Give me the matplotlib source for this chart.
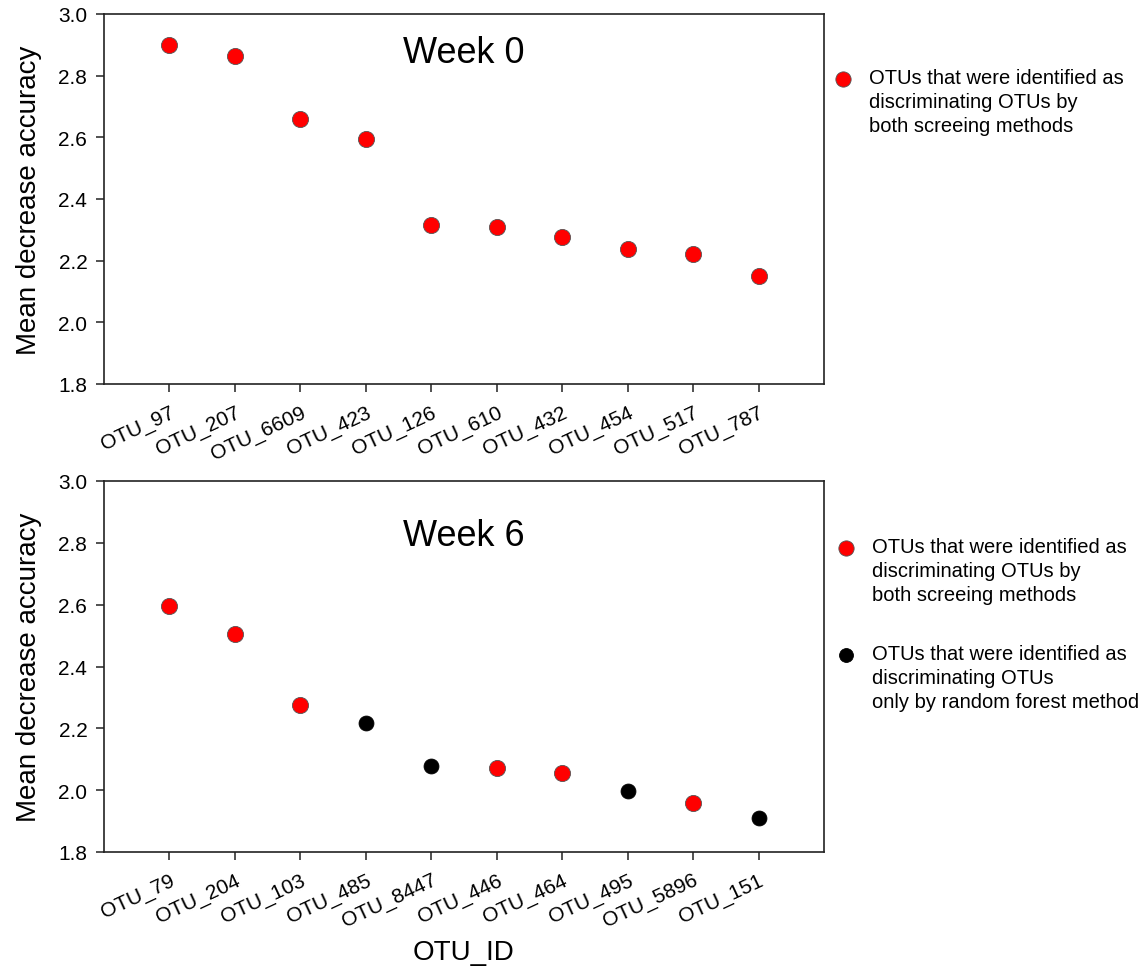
import matplotlib
matplotlib.use("Agg")
import matplotlib.pyplot as plt
from matplotlib.lines import Line2D

plt.rcParams['font.family'] = ['Liberation Sans', 'DejaVu Sans']

week0_ids = ["OTU_97", "OTU_207", "OTU_6609", "OTU_423", "OTU_126",
             "OTU_610", "OTU_432", "OTU_454", "OTU_517", "OTU_787"]
week0_vals = [2.90, 2.865, 2.66, 2.595, 2.316, 2.31, 2.277, 2.238, 2.222, 2.15]
week0_group = ["both"] * 10

week6_ids = ["OTU_79", "OTU_204", "OTU_103", "OTU_485", "OTU_8447",
             "OTU_446", "OTU_464", "OTU_495", "OTU_5896", "OTU_151"]
week6_vals = [2.596, 2.505, 2.275, 2.216, 2.078, 2.072, 2.055, 1.997, 1.959, 1.91]
week6_group = ["both", "both", "both", "rf", "rf", "both", "both", "rf", "both", "rf"]

y_ticks = [1.8, 2.0, 2.2, 2.4, 2.6, 2.8, 3.0]

colors = {"both": "#ff0000", "rf": "#000000"}
edges = {"both": "#555555", "rf": "#000000"}
labels = {"both": "OTUs that were identified as\ndiscriminating OTUs by\nboth screeing methods",
          "rf": "OTUs that were identified as\ndiscriminating OTUs\nonly by random forest method"}

W, H = 1146, 970
fig = plt.figure(figsize=(W / 100, H / 100), dpi=100)
ax1 = fig.add_axes([104 / W, 1 - 385 / H, 720 / W, 370 / H])
ax2 = fig.add_axes([104 / W, 1 - 853 / H, 720 / W, 371 / H])


def draw(ax, ids, vals, groups, title, title_y):
    x = list(range(len(ids)))
    for g in ["both", "rf"]:
        xs = [xi for xi, gg in zip(x, groups) if gg == g]
        ys = [v for v, gg in zip(vals, groups) if gg == g]
        if xs:
            ax.scatter(xs, ys, s=135 if g == "both" else 115, c=colors[g],
                       edgecolors=edges[g], linewidths=0.6, zorder=3)
    ax.set_xlim(-1, len(ids))
    ax.set_ylim(1.8, 3.0)
    ax.set_yticks(y_ticks)
    ax.set_yticklabels([f"{t:.1f}" for t in y_ticks], fontsize=15)
    ax.set_xticks(x)
    ax.set_xticklabels(ids, rotation=25, ha="right", rotation_mode="anchor", fontsize=15)
    ax.tick_params(axis="both", direction="out", length=6, width=1.1, colors="#222222",
                   labelcolor="black")
    ax.tick_params(axis="y", pad=6)
    ax.tick_params(axis="x", pad=7)
    for s in ax.spines.values():
        s.set_linewidth(1.2)
        s.set_color("#222222")
    ax.set_ylabel("Mean decrease accuracy", fontsize=20, labelpad=12)
    ax.text(0.5, title_y, title, transform=ax.transAxes, fontsize=26, ha="center", va="center")


def legend_item(mx, my, g):
    fig.add_artist(Line2D([mx / W], [1 - my / H], transform=fig.transFigure, marker="o",
                          linestyle="none", markersize=11 if g == "both" else 10,
                          markerfacecolor=colors[g], markeredgecolor=edges[g],
                          markeredgewidth=0.6))
    fig.text((mx + 26) / W, 1 - (my - 11) / H, labels[g], fontsize=14.5, ha="left", va="top",
             linespacing=1.33)


draw(ax1, week0_ids, week0_vals, week0_group, "Week 0", 0.895)
draw(ax2, week6_ids, week6_vals, week6_group, "Week 6", 0.853)
ax2.set_xlabel("OTU_ID", fontsize=20, labelpad=6)

legend_item(843, 80, "both")
legend_item(846, 549, "both")
legend_item(846, 656, "rf")

fig.savefig("out.png", dpi=100)
